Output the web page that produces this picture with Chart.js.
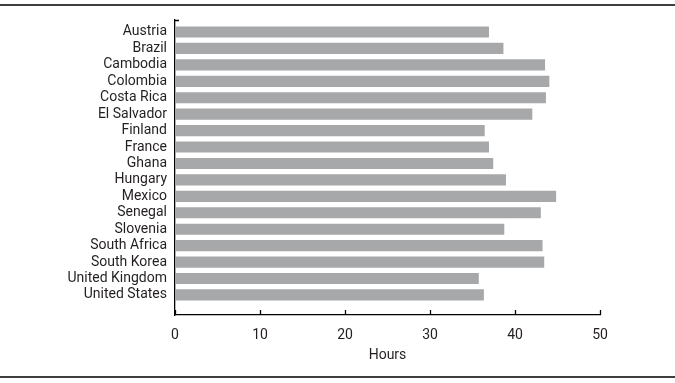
<!DOCTYPE html>
<html>
<head>
<meta charset="utf-8">
<script src="https://cdn.jsdelivr.net/npm/chart.js@4/dist/chart.umd.min.js"></script>
<style>
  html, body { margin: 0; padding: 0; background: #fff; }
  #wrap { width: 675px; height: 383px; position: relative; }
</style>
</head>
<body>
<div id="wrap"><canvas id="chart"></canvas></div>
<script>
// data
const countries = ['Austria', 'Brazil', 'Cambodia', 'Colombia', 'Costa Rica', 'El Salvador',
    'Finland', 'France', 'Ghana', 'Hungary', 'Mexico', 'Senegal', 'Slovenia',
    'South Africa', 'South Korea', 'United Kingdom', 'United States'];
const hours = [36.9, 38.6, 43.5, 44.0, 43.6, 42.0, 36.4, 36.9, 37.4, 38.9,
    44.8, 43.0, 38.7, 43.2, 43.4, 35.7, 36.3];
const xTicks = [0, 10, 20, 30, 40, 50];
const xTitle = 'Hours';

const FONT = 'Roboto, sans-serif';
const INK = '#231f20';

// rules at top and bottom of the figure, inward tick marks on the x axis
const decorations = {
    id: 'decorations',
    afterDraw( chart ) {
        const c = chart.ctx;
        const area = chart.chartArea;
        c.save();
        c.strokeStyle = '#000';
        c.lineWidth = 1.6;
        c.beginPath();
        c.moveTo( 0, 5 ); c.lineTo( chart.width, 5 );
        c.moveTo( 0, 377 ); c.lineTo( chart.width, 377 );
        c.stroke();

        c.lineWidth = 1.3;
        c.beginPath();
        const xs = chart.scales.x;
        xTicks.forEach( v => {
            const px = Math.round( xs.getPixelForValue( v ) ) + 0.5;
            c.moveTo( px, area.bottom );
            c.lineTo( px, area.bottom - 5 );
        });
        // small tick at the top of the y axis
        c.moveTo( area.left, area.top + 0.5 );
        c.lineTo( area.left + 4, area.top + 0.5 );
        c.stroke();
        c.restore();
    }
};

new Chart( document.getElementById('chart'), {
    type: 'bar',
    data: {
        datasets: [{
            data: hours.map( ( h, i ) => ({ x: h, y: i }) ),
            backgroundColor: '#a7a8aa',
            borderWidth: 0,
            barThickness: 10.5
        }]
    },
    options: {
        indexAxis: 'y',
        responsive: true,
        maintainAspectRatio: false,
        animation: false,
        layout: { padding: { top: 20, right: 75, bottom: 0, left: 0 } },
        plugins: {
            legend: { display: false },
            tooltip: { enabled: false }
        },
        scales: {
            y: {
                type: 'linear',
                reverse: true,
                offset: false,
                bounds: 'data',
                min: -0.73,
                max: 17.22,
                afterBuildTicks: scale => {
                    scale.ticks = countries.map( ( c, i ) => ({ value: i }) );
                },
                afterFit: scale => { scale.width = 175; },
                ticks: {
                    callback: v => countries[v],
                    color: INK,
                    font: { family: FONT, size: 14 },
                    padding: 8,
                    autoSkip: false
                },
                grid: { display: false, drawTicks: false, offset: false },
                border: { display: true, color: '#000', width: 1.3 }
            },
            x: {
                type: 'linear',
                bounds: 'data',
                min: 0,
                max: 50,
                afterBuildTicks: scale => {
                    scale.ticks = xTicks.map( v => ({ value: v }) );
                },
                afterFit: scale => { scale.height = 68; },
                ticks: {
                    color: INK,
                    font: { family: FONT, size: 14 },
                    padding: 12
                },
                grid: { display: false, drawTicks: false },
                border: { display: true, color: '#000', width: 1.3 },
                title: {
                    display: true,
                    text: xTitle,
                    color: INK,
                    font: { family: FONT, size: 14 },
                    padding: { top: 4.8, bottom: 19 }
                }
            }
        }
    },
    plugins: [ decorations ]
});
</script>
</body>
</html>
